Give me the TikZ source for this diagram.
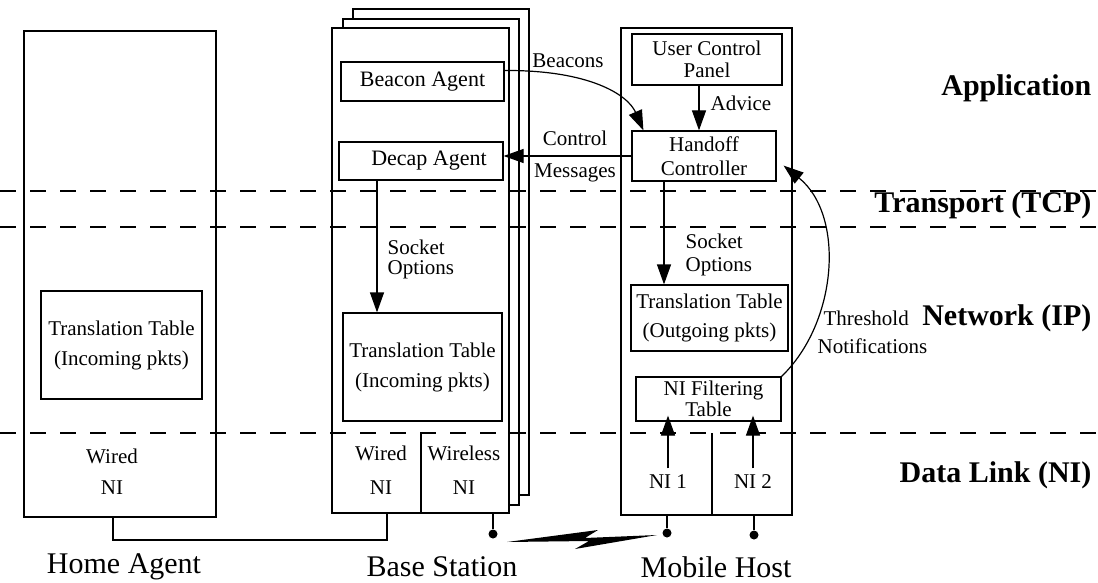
\documentclass[tikz,border=0pt]{standalone}
\usepackage{fontspec}
\setmainfont{Liberation Serif}
\usetikzlibrary{arrows.meta}

\begin{document}
\begin{tikzpicture}[x=0.5pt,y=-0.5pt,line width=0.6pt,
  box/.style={draw,inner sep=0pt,align=center,font=\fontsize{10.5}{15}\selectfont},
  lbl/.style={inner sep=0pt,align=center,font=\fontsize{10.5}{13}\selectfont},
  layer/.style={anchor=east,inner sep=0pt,font=\bfseries\fontsize{15}{17}\selectfont},
  site/.style={inner sep=0pt,font=\fontsize{15}{17}\selectfont},
  arr/.style={-{Triangle[length=10pt,width=7pt]}},
  level/.style={dash pattern=on 8pt off 7pt},
  dot/.style={circle,fill,inner sep=0pt,minimum size=4.5pt}]
\useasboundingbox (0,0) rectangle (1098,583);
\node[box,fill=white,minimum width=88pt,minimum height=243pt] (bs3) at (441,252) {};
\node[box,fill=white,minimum width=88pt,minimum height=243pt] (bs2) at (431,262) {};
\node[box,fill=white,minimum width=88.5pt,minimum height=242.5pt] (bs) at (420.5,270.5) {};
\draw[level] (0,191) -- (1098,191);
\draw[level] (0,227) -- (1098,227);
\draw[level] (0,433) -- (1098,433);
\node[box,minimum width=96pt,minimum height=243pt] (ha) at (120,274) {};
\node[box,minimum width=80.5pt,minimum height=54pt] (hatab) at (121.5,345) {Translation Table\\(Incoming pkts)};
\node[box,font=\fontsize{11}{13}\selectfont,minimum width=81.5pt,minimum height=19.5pt] (beacon) at (422.5,81.5) {Beacon Agent};
\node[box,font=\fontsize{11}{13}\selectfont,minimum width=82pt,minimum height=19pt] (decap) at (421,161) {\hspace*{8pt}Decap Agent};
\node[box,minimum width=79.5pt,minimum height=54pt] (bsin) at (422.5,367) {Translation Table\\(Incoming pkts)};
\node[box,minimum width=85.5pt,minimum height=243.5pt] (mh) at (706.5,271.5) {};
\node[box,font=\fontsize{10.5}{11}\selectfont,minimum width=75pt,minimum height=25.5pt] (ucp) at (707,59.5) {User Control\\Panel};
\node[box,font=\fontsize{10.5}{12}\selectfont,minimum width=72pt,minimum height=25pt] (handoff) at (704,156) {Handoff\\Controller};
\node[box,font=\fontsize{10.5}{14.5}\selectfont,minimum width=78.5pt,minimum height=33pt] (outgoing) at (709.5,318) {Translation Table\\(Outgoing pkts)};
\node[box,font=\fontsize{10.5}{8.5}\selectfont,minimum width=72.5pt,minimum height=22pt] (filter) at (708.5,399) {\hspace*{5pt}NI Filtering\\Table};
\draw (421,433) -- (421,513);
\draw (712,433) -- (712,515);
\node[lbl] (beacons) at (568,61) {Beacons};
\node[lbl,font=\fontsize{10.5}{16}\selectfont] (ctrlmsg) at (575,156) {Control\\Messages};
\node[lbl,anchor=west,align=left,font=\fontsize{10.5}{10}\selectfont] (bssock) at (387,259) {Socket\\Options};
\node[lbl,anchor=west,align=left,font=\fontsize{10.5}{11.5}\selectfont] (mhsock) at (685,254.5) {Socket\\Options};
\node[lbl,anchor=west] (advice) at (710,103) {Advice};
\node[lbl,anchor=west,align=left,font=\fontsize{10.5}{14}\selectfont] (thresh) at (817,332) {\hspace*{3pt}Threshold\\Notifications};
\node[lbl,font=\fontsize{10.5}{15.5}\selectfont] (hani) at (112,472) {Wired\\NI};
\node[lbl,font=\fontsize{10.5}{17}\selectfont] (bswired) at (381,470) {Wired\\NI};
\node[lbl,font=\fontsize{10.5}{17}\selectfont] (bswless) at (464,470) {Wireless\\NI};
\node[lbl] (ni1) at (668,482) {NI 1};
\node[lbl] (ni2) at (753,482) {NI 2};
\draw[arr] ([yshift=5.5pt]beacon.east) .. controls (590,70) and (628,95) .. ([xshift=6pt]handoff.north west);
\draw[arr] (handoff.west) -- (handoff.west -| decap.east);
\draw[arr] ([xshift=-4pt]ucp.south) -- ([xshift=-4pt]ucp.south |- handoff.north);
\draw[arr] ([xshift=-22pt]decap.south) -- ([xshift=-22pt]decap.south |- bsin.north);
\draw[arr] ([xshift=-20pt]handoff.south) -- ([xshift=-20pt]handoff.south |- outgoing.north);
\draw[arr] (filter.north east) .. controls (838,322) and (845,215) .. ([xshift=3.5pt,yshift=8pt]handoff.south east);
\draw[arr] ([yshift=3pt]ni1.north) -- ([yshift=3pt]ni1.north |- filter.south);
\draw[arr] ([yshift=3pt]ni2.north) -- ([yshift=3pt]ni2.north |- filter.south);
\coordinate (wire) at (387,540);
\draw ([xshift=-3.5pt]ha.south) |- (wire) -- (wire |- bs.south);
\node[dot] (bsant) at (493,534) {};
\node[dot] (mhant1) at (667,533) {};
\node[dot] (mhant2) at (754,535) {};
\draw (bsant) -- (bsant |- bs.south);
\draw (mhant1) -- (mhant1 |- mh.south);
\draw (mhant2) -- (mhant2 |- mh.south);
\fill (507,542) -- (598,530) -- (585,538) -- (657,535) -- (575,549) -- (589,541) -- cycle;
\node[layer] (app) at (1092,88) {Application};
\node[layer] (tcp) at (1092,205) {Transport (TCP)};
\node[layer] (ip) at (1092,318) {Network (IP)};
\node[layer] (link) at (1092,475) {Data Link (NI)};
\node[site] (hasite) at (124,567) {Home Agent};
\node[site] (bssite) at (442,567) {Base Station};
\node[site] (mhsite) at (716,567) {Mobile Host};
\end{tikzpicture}
\end{document}
